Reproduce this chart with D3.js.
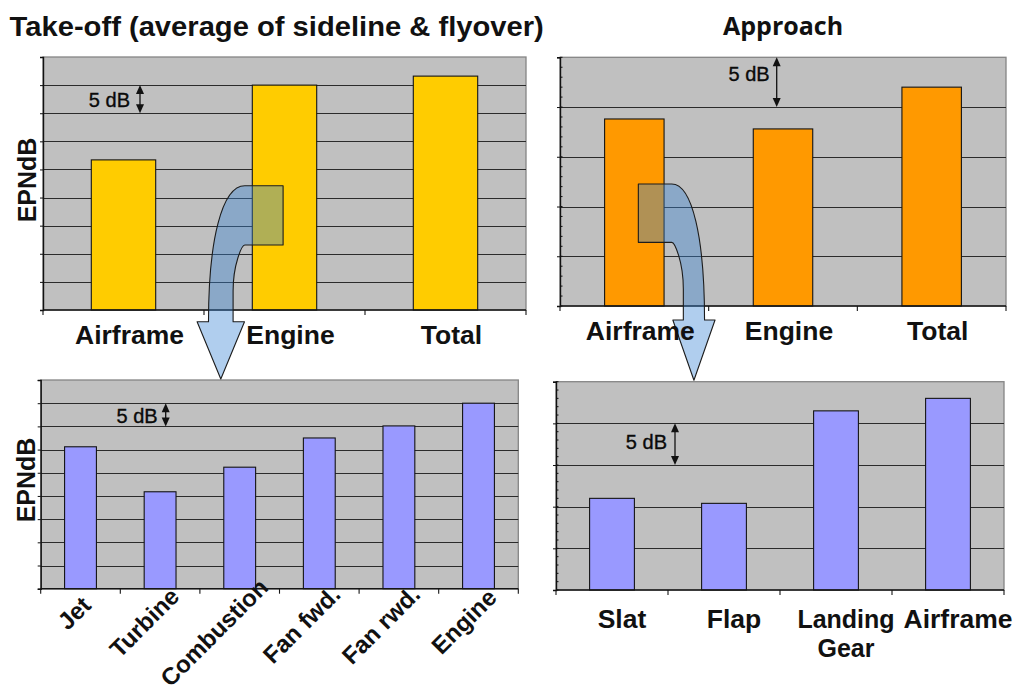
<!DOCTYPE html>
<html>
<head>
<meta charset="utf-8">
<script src="https://cdn.jsdelivr.net/npm/d3@7"></script>
<style>
  body { margin: 0; background: #ffffff; }
  svg { display: block; }
</style>
</head>
<body>
<svg id="chart" width="1029" height="692"></svg>
<script>
// Relative noise levels, EPNdB (gridlines every 5 dB)

// Take-off, average of sideline & flyover
const takeoffCategories = ["Airframe", "Engine", "Total"];
const takeoffValues = [26.7, 40.0, 41.6];

// Approach
const approachCategories = ["Airframe", "Engine", "Total"];
const approachValues = [18.8, 17.8, 22.0];

// Engine components at take-off
const engineCategories = ["Jet", "Turbine", "Combustion", "Fan fwd.", "Fan rwd.", "Engine"];
const engineValues = [30.6, 20.9, 26.2, 32.5, 35.1, 40.0];

// Airframe components at approach
const airframeCategories = ["Slat", "Flap", "Landing Gear", "Airframe"];
const airframeValues = [11.0, 10.4, 21.5, 23.0];

// Axis ticks (dB)
const takeoffTicks = [0, 5, 10, 15, 20, 25, 30, 35, 40, 45];
const approachTicks = [0, 5, 10, 15, 20, 25];
const approachMinorTicks = d3.range(0, 26, 1);

const svg = d3.select("#chart");
const FONT = "'Liberation Sans', Arial, Helvetica, sans-serif";
const TEXT_STRETCH = 1.06;

function stretch(sel, k) {
  sel.each(function () {
    const w = this.getComputedTextLength();
    d3.select(this).attr("textLength", w * k).attr("lengthAdjust", "spacingAndGlyphs");
  });
}

function drawPanel(cfg) {
  const x = d3.scaleBand()
    .domain(cfg.categories)
    .range([cfg.left, cfg.right])
    .paddingInner(0.6)
    .paddingOuter(0.3);
  const y = d3.scaleLinear().domain([0, cfg.max]).range([cfg.bottom, cfg.top]);
  const g = svg.append("g");

  // plot area
  g.append("rect")
    .attr("x", cfg.left).attr("y", cfg.top)
    .attr("width", cfg.right - cfg.left).attr("height", cfg.bottom - cfg.top)
    .attr("fill", "#c0c0c0").attr("stroke", "#858585").attr("stroke-width", 1.3);

  // gridlines
  g.append("g").selectAll("line")
    .data(cfg.ticks.filter(t => t > 0 && t < cfg.max))
    .join("line")
    .attr("x1", cfg.left).attr("x2", cfg.right)
    .attr("y1", d => Math.round(y(d)) + 0.5).attr("y2", d => Math.round(y(d)) + 0.5)
    .attr("stroke", "#2b2b2b").attr("stroke-width", 1);

  // bars
  g.append("g").selectAll("rect")
    .data(cfg.values)
    .join("rect")
    .attr("x", (d, i) => x(cfg.categories[i]))
    .attr("width", x.bandwidth())
    .attr("y", d => y(d))
    .attr("height", d => y(0) - y(d))
    .attr("fill", cfg.color)
    .attr("stroke", "#141414").attr("stroke-width", 1.1);

  // y axis: line, major ticks outside, optional minor ticks inside
  const yAxis = g.append("g").attr("transform", `translate(${cfg.left},0)`)
    .call(d3.axisLeft(y).tickValues(cfg.ticks).tickSize(3).tickFormat(""));
  yAxis.select(".domain").attr("stroke", "#111").attr("stroke-width", 1.4);
  yAxis.selectAll(".tick line").attr("stroke", "#111");
  if (cfg.minorTicks) {
    g.append("g").selectAll("line")
      .data(cfg.minorTicks)
      .join("line")
      .attr("x1", cfg.left).attr("x2", cfg.left + 2.5)
      .attr("y1", d => y(d)).attr("y2", d => y(d))
      .attr("stroke", "#111").attr("stroke-width", 1);
  }

  // x axis: baseline and ticks between categories
  g.append("line")
    .attr("x1", cfg.left).attr("x2", cfg.right)
    .attr("y1", y(0)).attr("y2", y(0))
    .attr("stroke", "#151515").attr("stroke-width", 1.6);
  const bounds = d3.range(cfg.categories.length + 1).map(i => x.range()[0] + i * x.step());
  g.append("g").selectAll("line")
    .data(bounds)
    .join("line")
    .attr("x1", d => d).attr("x2", d => d)
    .attr("y1", y(0)).attr("y2", y(0) + 5)
    .attr("stroke", "#151515").attr("stroke-width", 1.1);

  return { g, x, y };
}

function addScaleMarker(p, cfg) {
  const ax = p.x.range()[0] + cfg.offset;
  const y1 = p.y(cfg.from), y2 = p.y(cfg.from - 5);
  const g = svg.append("g");
  g.append("line").attr("x1", ax).attr("x2", ax).attr("y1", y1 + 4).attr("y2", y2 - 4)
    .attr("stroke", "#111").attr("stroke-width", 1.3);
  g.append("path").attr("d", `M${ax},${y1} L${ax - 4},${y1 + 9} L${ax + 4},${y1 + 9} Z`).attr("fill", "#111");
  g.append("path").attr("d", `M${ax},${y2} L${ax - 4},${y2 - 9} L${ax + 4},${y2 - 9} Z`).attr("fill", "#111");
  g.append("text")
    .attr("x", ax + cfg.textDx).attr("y", (y1 + y2) / 2 + cfg.textDy)
    .attr("text-anchor", "end")
    .attr("font-family", FONT).attr("font-size", 20).attr("fill", "#0a0a0a")
    .attr("stroke", "#0a0a0a").attr("stroke-width", 0.35)
    .text("5 dB");
}

// Curved call-out arrow from a bar down to its breakdown panel
function calloutArrow(a) {
  const side = Math.sign(a.outerX - a.innerX);
  const path = d3.path();
  path.moveTo(a.startX, a.yTop);
  path.lineTo(a.boxEndX, a.yTop);
  path.lineTo(a.boxEndX, a.yBot);
  path.lineTo(a.startX, a.yBot);
  path.bezierCurveTo(
    a.startX + 0.25 * (a.innerX - a.startX), a.yBot,
    a.innerX, a.yBot + 0.25 * (a.headY - a.yBot),
    a.innerX, a.yBot + 0.6 * (a.headY - a.yBot));
  path.lineTo(a.innerX, a.headY);
  path.lineTo(a.innerX - side * a.headWing, a.headY);
  path.lineTo((a.innerX + a.outerX) / 2, a.tipY);
  path.lineTo(a.outerX + side * a.headWing, a.headY);
  path.lineTo(a.outerX, a.headY);
  path.bezierCurveTo(
    a.outerX, a.yTop + 0.4 * (a.headY - a.yTop),
    a.outerX + 0.37 * (a.startX - a.outerX), a.yTop,
    a.startX, a.yTop);
  path.closePath();
  svg.append("path")
    .attr("d", path.toString())
    .attr("fill", "rgb(58,132,212)").attr("fill-opacity", 0.4)
    .attr("stroke", "#1c1c1c").attr("stroke-width", 1.1)
    .attr("stroke-linejoin", "round");
}

function horizontalLabels(p, cfg) {
  const g = svg.append("g");
  p.x.domain().forEach(c => {
    const cx = p.x(c) + p.x.bandwidth() / 2 + cfg.dx;
    const t = g.append("text")
      .attr("x", cx).attr("y", cfg.baseline)
      .attr("text-anchor", "middle")
      .attr("font-family", FONT).attr("font-weight", "bold").attr("font-size", 25)
      .attr("fill", "#111")
      .text(c);
    if (t.node().getComputedTextLength() > p.x.step() && c.includes(" ")) {
      const words = c.split(" ");
      t.text(null);
      words.forEach((w, i) => {
        t.append("tspan").attr("x", cx).attr("y", cfg.baseline + i * cfg.lineHeight).text(w);
      });
    } else {
      t.call(stretch, TEXT_STRETCH);
    }
  });
}

function rotatedLabels(p, baseY) {
  const g = svg.append("g");
  p.x.domain().forEach(c => {
    const cx = p.x(c) + p.x.bandwidth() / 2;
    const t = g.append("text")
      .attr("text-anchor", "end")
      .attr("font-family", FONT).attr("font-weight", "bold").attr("font-size", 24)
      .attr("fill", "#111")
      .text(c);
    const L = t.node().getComputedTextLength();
    const px = cx + 6 + 0.17 * L;
    const py = baseY + 24 - 0.17 * L;
    t.attr("transform", `translate(${px},${py}) rotate(-45)`);
  });
}

function yTitle(xPos, yPos) {
  svg.append("text")
    .attr("transform", `translate(${xPos},${yPos}) rotate(-90)`)
    .attr("text-anchor", "middle")
    .attr("font-family", FONT).attr("font-weight", "bold").attr("font-size", 25)
    .attr("fill", "#111")
    .text("EPNdB");
}

// ---- panels ----
const pTakeoff = drawPanel({
  categories: takeoffCategories, values: takeoffValues, ticks: takeoffTicks, max: 45,
  left: 43, right: 526, top: 57, bottom: 310, color: "#ffcc00"
});
const pApproach = drawPanel({
  categories: approachCategories, values: approachValues, ticks: approachTicks, max: 25,
  minorTicks: approachMinorTicks,
  left: 560, right: 1006, top: 57.3, bottom: 306, color: "#ff9900"
});
const pEngine = drawPanel({
  categories: engineCategories, values: engineValues, ticks: takeoffTicks, max: 45,
  left: 40.7, right: 518.3, top: 380, bottom: 588.7, color: "#9999ff"
});
const pAirframe = drawPanel({
  categories: airframeCategories, values: airframeValues, ticks: approachTicks, max: 25,
  minorTicks: approachMinorTicks,
  left: 556, right: 1004, top: 381.7, bottom: 590, color: "#9999ff"
});

// ---- call-out arrows ----
{
  const cx = pTakeoff.x("Engine") + pTakeoff.x.bandwidth() / 2;
  const shaftC = cx - 63.7;
  calloutArrow({
    startX: cx - 39.7, boxEndX: cx - 1.4,
    yTop: pTakeoff.y(22.1), yBot: pTakeoff.y(11.55),
    outerX: shaftC - 12.3, innerX: shaftC + 12.3,
    headY: pTakeoff.y(0) + 11.7, headWing: 11.4,
    tipY: pEngine.y(45) - 1
  });
}
{
  const cx = pApproach.x("Airframe") + pApproach.x.bandwidth() / 2;
  const shaftC = cx + 59.6;
  calloutArrow({
    startX: cx + 37.4, boxEndX: cx + 4,
    yTop: pApproach.y(12.26), yBot: pApproach.y(6.4),
    outerX: shaftC + 10.6, innerX: shaftC - 10.6,
    headY: pApproach.y(0) + 14, headWing: 10.5,
    tipY: pAirframe.y(25) - 1.5
  });
}

// ---- 5 dB scale markers ----
addScaleMarker(pTakeoff, { offset: 97, from: 40, textDx: -10, textDy: 8 });
addScaleMarker(pApproach, { offset: 216.7, from: 25, textDx: -7, textDy: -1.5 });
addScaleMarker(pEngine, { offset: 125, from: 40, textDx: -8, textDy: 8 });
addScaleMarker(pAirframe, { offset: 119, from: 20, textDx: -8, textDy: 4.5 });

// ---- category labels ----
horizontalLabels(pTakeoff, { baseline: 344.3, dx: 6, lineHeight: 28 });
horizontalLabels(pApproach, { baseline: 340, dx: 6, lineHeight: 28 });
horizontalLabels(pAirframe, { baseline: 628.3, dx: 10, lineHeight: 28.4 });
rotatedLabels(pEngine, pEngine.y(0));

// ---- axis titles ----
yTitle(36, 180);
yTitle(35, 480);

// ---- panel titles ----
svg.append("text")
  .attr("x", 9.6).attr("y", 35.7)
  .attr("font-family", FONT).attr("font-weight", "bold").attr("font-size", 27)
  .attr("fill", "#111")
  .text("Take-off (average of sideline & flyover)")
  .call(stretch, 1.08);

svg.append("text")
  .attr("x", 723).attr("y", 35)
  .attr("font-family", "'Open Sans', 'Noto Sans', sans-serif").attr("font-weight", "bold").attr("font-size", 25)
  .attr("fill", "#111")
  .text("Approach");
</script>
</body>
</html>
